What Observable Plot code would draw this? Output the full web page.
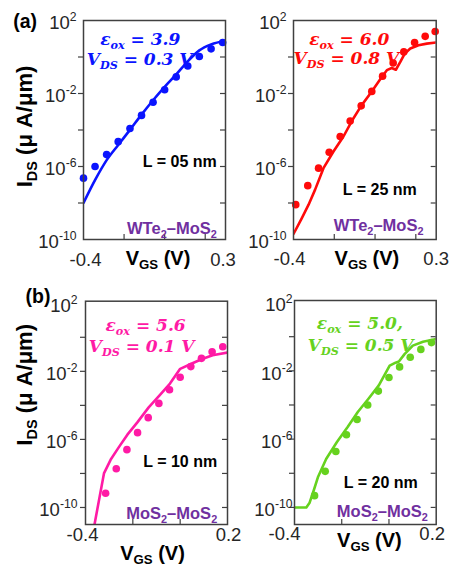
<!DOCTYPE html>
<html><head><meta charset="utf-8">
<script src="https://cdn.jsdelivr.net/npm/d3@7"></script>
<script src="https://cdn.jsdelivr.net/npm/@observablehq/plot@0.6"></script>
<style>
html,body{margin:0;padding:0;background:#fff;overflow:hidden;}
#fig{position:relative;width:452px;height:576px;overflow:hidden;}
#fig svg{position:absolute;overflow:visible;}
</style></head><body><div id="fig"></div>
<script>
// ---------- data (VGS in V, IDS in uA/um) ----------
// (a) WTe2–MoS2, L = 05 nm
const vgsL05Dots = [-0.4, -0.343, -0.286, -0.229, -0.171, -0.114, -0.057, 0, 0.057, 0.114, 0.171, 0.229, 0.286];
const idsL05Dots = [2.3e-7, 1.0e-6, 4.5e-6, 2.3e-5, 1.2e-4, 6.3e-4, 3.3e-3, 1.6e-2, 8.1e-2, 0.32, 1.07, 2.8, 6.2];
const vgsL05Line = [-0.4, -0.342, -0.285, -0.229, -0.172, -0.116, -0.059, 0, 0.057, 0.114, 0.171, 0.229, 0.3];
const idsL05Line = [1.0e-8, 1.9e-7, 2.3e-6, 1.5e-5, 9.8e-5, 6.5e-4, 4.0e-3, 2.3e-2, 0.11, 0.58, 2.3, 4.9, 7.9];
// (a) WTe2–MoS2, L = 25 nm
const vgsL25Dots = [-0.389, -0.330, -0.277, -0.225, -0.171, -0.122, -0.068, -0.016, 0.037, 0.089, 0.141, 0.194, 0.246, 0.295];
const idsL25Dots = [8.1e-9, 8.9e-8, 8.1e-7, 6.0e-6, 4.4e-5, 3.1e-4, 2.1e-3, 1.3e-2, 8.9e-2, 0.47, 1.9, 6.2, 13.5, 25];
const vgsL25Line = [-0.4, -0.359, -0.326, -0.294, -0.253, -0.204, -0.155, -0.114, -0.068, -0.016, 0.033, 0.058, 0.082, 0.102, 0.124, 0.145, 0.173, 0.213, 0.254, 0.3];
const idsL25Line = [2.0e-10, 1.5e-9, 8.1e-9, 5.4e-8, 8.1e-7, 6.6e-6, 4.4e-5, 3.1e-4, 2.1e-3, 1.3e-2, 8.1e-2, 0.19, 0.25, 0.20, 0.54, 1.5, 2.9, 4.4, 5.4, 6.2];
// (b) MoS2–MoS2, L = 10 nm
const vgsL10Dots = [-0.315, -0.27, -0.225, -0.18, -0.135, -0.09, -0.045, 0, 0.045, 0.09, 0.135, 0.18];
const idsL10Dots = [6.9e-10, 1.9e-8, 2.5e-7, 2.5e-6, 1.9e-5, 1.3e-4, 8.3e-4, 4.5e-3, 1.9e-2, 5.8e-2, 0.14, 0.28];
const vgsL10Line = [-0.366, -0.322, -0.294, -0.259, -0.223, -0.181, -0.133, -0.088, -0.043, 0, 0.045, 0.09, 0.137, 0.2];
const idsL10Line = [5.0e-12, 1.0e-8, 6.3e-8, 3.5e-7, 1.9e-6, 1.0e-5, 7.6e-5, 3.7e-4, 1.9e-3, 1.4e-2, 2.7e-2, 5.1e-2, 8.7e-2, 0.126];
// (b) MoS2–MoS2, L = 20 nm
const vgsL20Dots = [-0.315, -0.27, -0.225, -0.18, -0.135, -0.09, -0.045, 0, 0.045, 0.09, 0.135, 0.18];
const idsL20Dots = [4.9e-10, 1.3e-8, 1.9e-7, 1.8e-6, 1.4e-5, 1.0e-4, 6.5e-4, 4.1e-3, 1.7e-2, 6.2e-2, 0.18, 0.45];
const vgsL20Line = [-0.4, -0.35, -0.336, -0.319, -0.301, -0.266, -0.221, -0.175, -0.132, -0.086, -0.043, 0.003, 0.028, 0.042, 0.066, 0.101, 0.144, 0.2];
const idsL20Line = [1.0e-10, 1.0e-10, 1.9e-10, 9.5e-10, 5.8e-9, 6.9e-8, 6.6e-7, 5.1e-6, 3.9e-5, 2.4e-4, 1.4e-3, 2.0e-2, 3.0e-2, 3.5e-2, 9.5e-2, 0.30, 0.51, 0.74];

// tick values and labels
const yTicksTop = [1e0, 1e-2, 1e-4, 1e-6, 1e-8];
const yTicksBottom = [1e0, 1e-2, 1e-4, 1e-6, 1e-8, 1e-10];
const yLabelTicks = [1e2, 1e-2, 1e-6, 1e-10];
const xTicksTop = [-0.2, 0, 0.2];
const xTicksBottom = [-0.2, 0];
const xLabelsTop = [-0.4, 0.3];
const xLabelsBottom = [-0.4, 0.2];

// text
const yTitle = "I_{DS} (μ A/μm)";
const xTitle = "V_{GS} (V)";
const epsTexts = ["ε_{ox} = 3.9", "ε_{ox} = 6.0", "ε_{ox} = 5.6", "ε_{ox} = 5.0,"];
const vdsTexts = ["V_{DS} = 0.3 V", "V_{DS} = 0.8 V", "V_{DS} = 0.1 V", "V_{DS} = 0.5 V"];
const lenTexts = ["L = 05 nm", "L = 25 nm", "L = 10 nm", "L = 20 nm"];
const matTexts = ["WTe_{2}–MoS_{2}", "WTe_{2}–MoS_{2}", "MoS_{2}–MoS_{2}", "MoS_{2}–MoS_{2}"];
const panelTags = ["(a)", "(b)"];

// ---------- drawing ----------
const W = 228, H = 288;
const SANS = "Liberation Sans, Arial, sans-serif";
const SERIF = "DejaVu Serif, Liberation Serif, serif";
const PURPLE = "#7030a0";
const AX = "#404040";

function txt(s, o) {
  return Plot.text([s], {
    text: d => d, frameAnchor: o.anchor || "top-left", dx: o.dx, dy: o.dy,
    textAnchor: o.ta || "start", fill: o.fill || "#000", fontSize: o.fs,
    fontWeight: o.fw || "bold", fontStyle: o.fst || "normal", fontFamily: o.ff || SANS,
    rotate: o.rot || 0
  });
}

function richify(svg) {
  const ns = "http://www.w3.org/2000/svg";
  svg.querySelectorAll("text").forEach(t => {
    const s = t.textContent;
    if (!/[_^]\{/.test(s)) return;
    const fs = parseFloat(getComputedStyle(t).fontSize) || 16;
    while (t.firstChild) t.removeChild(t.firstChild);
    const re = /([_^])\{([^}]*)\}/g;
    let last = 0, m;
    const plain = str => { const sp = document.createElementNS(ns, "tspan"); sp.textContent = str; t.appendChild(sp); };
    while ((m = re.exec(s))) {
      if (m.index > last) plain(s.slice(last, m.index));
      const sp = document.createElementNS(ns, "tspan");
      sp.textContent = m[2];
      sp.setAttribute("font-size", (fs * 0.66).toFixed(1));
      sp.setAttribute("baseline-shift", m[1] === "^" ? (fs * 0.42).toFixed(1) : (-fs * 0.22).toFixed(1));
      t.appendChild(sp);
      last = re.lastIndex;
    }
    if (last < s.length) plain(s.slice(last));
  });
}

function makePanel(p) {
  const pw = W - p.ml - p.mr, ph = H - p.mt - p.mb;
  const dots = p.dotV.map((v, i) => ({v, i: p.dotI[i]}));
  const line = p.lineV.map((v, i) => ({v, i: p.lineI[i]}));
  const fmt = d => `10^{${Math.round(Math.log10(d))}}`;
  const marks = [
    Plot.line(line, {x: "v", y: "i", stroke: p.color, strokeWidth: 2.6, curve: p.curve, clip: true}),
    Plot.dot(dots, {x: "v", y: "i", r: 3.8, fill: p.color, stroke: "none"}),
    Plot.frame({stroke: AX, strokeWidth: 1.5}),
    Plot.axisY({ticks: p.yTicks, tickSize: 5, tickFormat: () => "", label: null, stroke: AX, strokeWidth: 1.2}),
    Plot.tickY(p.yTicks, {y: d => d, insetLeft: pw - 5, stroke: AX, strokeWidth: 1.2}),
    Plot.tickX(p.xTicks, {x: d => d, insetTop: ph - 5, stroke: AX, strokeWidth: 1.2}),
    Plot.axisY({ticks: yLabelTicks, tickSize: 0, tickPadding: p.yPad, tickFormat: fmt, label: null, fontSize: 18.5, fill: "#262626", dy: 3}),
    ...p.xLabels.map((t, k) => Plot.axisX({ticks: [t], tickSize: 0, tickPadding: p.xPad, tickFormat: d => d.toFixed(1), label: null, fontSize: 18.5, fill: "#262626", dx: p.xLabelDx[k]})),
    txt(epsTexts[p.k], {dx: p.eps[0], dy: p.eps[1], fill: p.color, fs: 17, fst: "italic", ff: SERIF}),
    txt(vdsTexts[p.k], {dx: p.vds[0], dy: p.vds[1], fill: p.color, fs: 17, fst: "italic", ff: SERIF}),
    txt(lenTexts[p.k], {dx: p.len[0], dy: p.len[1], ta: "end", fs: 16}),
    txt(matTexts[p.k], {dx: p.mat[0], dy: p.mat[1], ta: "end", fs: 16.5, fill: PURPLE}),
    txt(xTitle, {anchor: "bottom", dx: p.xt[0], dy: p.xt[1], ta: "middle", fs: 20})
  ];
  if (p.yt) marks.push(txt(yTitle, {anchor: "left", dx: p.yt[0], dy: p.yt[1], ta: "middle", fs: 22, rot: -90}));
  if (p.tag) marks.push(txt(p.tag, {dx: p.tagPos[0], dy: p.tagPos[1], fs: 19.5}));
  const svg = Plot.plot({
    width: W, height: H,
    marginLeft: p.ml, marginRight: p.mr, marginTop: p.mt, marginBottom: p.mb,
    style: {fontFamily: SANS, background: "transparent", overflow: "visible"},
    x: {domain: p.xDomain, label: null},
    y: {type: "log", domain: p.yDomain, label: null},
    marks
  });
  svg.style.left = p.left + "px";
  svg.style.top = p.top + "px";
  document.getElementById("fig").appendChild(svg);
  richify(svg);
}

const panels = [
  {k: 0, left: 0, top: 0, ml: 83, mr: 3, mt: 20, mb: 49, color: "#0a14ff", curve: "monotone-x",
   dotV: vgsL05Dots, dotI: idsL05Dots, lineV: vgsL05Line, lineI: idsL05Line,
   xDomain: [-0.4, 0.3], yDomain: [1e-10, 1e2], yTicks: yTicksTop, xTicks: xTicksTop,
   xLabels: xLabelsTop, xLabelDx: [2, -2.5], xPad: 13, yPad: 7,
   eps: [16.7, 12.7], vds: [3.3, 32.2], len: [133.3, 135.6], mat: [133.3, 201.4],
   xt: [3.5, 25.3], yt: [-59, -3.5], tag: panelTags[0], tagPos: [-70.3, -6]},
  {k: 1, left: 224, top: 0, ml: 69, mr: 16.3, mt: 20, mb: 49, color: "#ff0a0a", curve: "linear",
   dotV: vgsL25Dots, dotI: idsL25Dots, lineV: vgsL25Line, lineI: idsL25Line,
   xDomain: [-0.4, 0.3], yDomain: [1e-10, 1e2], yTicks: yTicksTop, xTicks: xTicksTop,
   xLabels: xLabelsTop, xLabelDx: [-4, 0], xPad: 12, yPad: 7,
   eps: [15.7, 12.2], vds: [0, 31.2], len: [123.3, 163.6], mat: [130, 198.9],
   xt: [2, 25.3]},
  {k: 2, left: 0, top: 288, ml: 85, mr: 1, mt: 12.7, mb: 52, color: "#ff1aa5", curve: "linear",
   dotV: vgsL10Dots, dotI: idsL10Dots, lineV: vgsL10Line, lineI: idsL10Line,
   xDomain: [-0.4, 0.2], yDomain: [1e-11, Math.pow(10, 2.12)], yTicks: yTicksBottom, xTicks: xTicksBottom,
   xLabels: xLabelsBottom, xLabelDx: [-3, 1], xPad: 3, yPad: 8,
   eps: [20, 18], vds: [3.3, 38.8], len: [131.7, 154.5], mat: [131.7, 205.9],
   xt: [-4, 35], yt: [-61, -28], tag: panelTags[1], tagPos: [-60, -12]},
  {k: 3, left: 224, top: 288, ml: 70, mr: 16.3, mt: 12, mb: 52, color: "#66d21e", curve: "linear",
   dotV: vgsL20Dots, dotI: idsL20Dots, lineV: vgsL20Line, lineI: idsL20Line,
   xDomain: [-0.4, 0.2], yDomain: [1e-11, Math.pow(10, 2.12)], yTicks: yTicksBottom, xTicks: xTicksBottom,
   xLabels: xLabelsBottom, xLabelDx: [-10, -4], xPad: 2, yPad: 2,
   eps: [22.3, 16.5], vds: [13.3, 38.5], len: [123.3, 175.9], mat: [133.3, 204.9],
   xt: [4, 22.6]}
];
panels.forEach(makePanel);
</script></body></html>
